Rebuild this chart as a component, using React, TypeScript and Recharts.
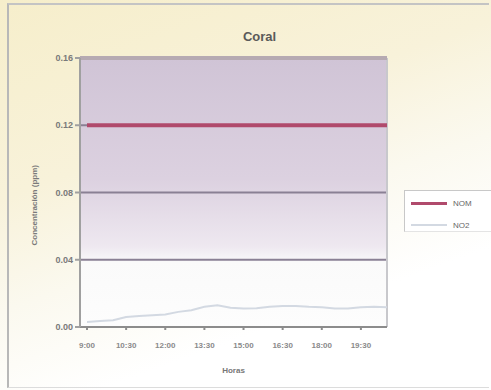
import React from "react"
import {
  LineChart,
  Line,
  XAxis,
  YAxis,
  CartesianGrid,
  ReferenceLine,
} from "recharts"

// half-hour readings, 9:00 to 20:30
const hours = [
  "9:00", "9:30", "10:00", "10:30", "11:00", "11:30", "12:00", "12:30",
  "13:00", "13:30", "14:00", "14:30", "15:00", "15:30", "16:00", "16:30",
  "17:00", "17:30", "18:00", "18:30", "19:00", "19:30", "20:00", "20:30",
]
const no2 = [
  0.003, 0.0035, 0.004, 0.006, 0.0065, 0.007, 0.0075, 0.009,
  0.01, 0.012, 0.013, 0.0115, 0.011, 0.0112, 0.012, 0.0125,
  0.0125, 0.012, 0.0117, 0.011, 0.011, 0.0118, 0.012, 0.0117,
]
const NOM_LIMIT = 0.12
const yTicks = [0, 0.04, 0.08, 0.12, 0.16]
const Y_MAX = 0.16

const data = hours.map((h, i) => ({ hora: h, NOM: NOM_LIMIT, NO2: no2[i] }))

const font = "'Liberation Sans', Arial, sans-serif"

function LegendBox() {
  return (
    <div
      style={{
        position: "absolute",
        left: 404,
        top: 190,
        width: 87,
        height: 42,
        boxSizing: "border-box",
        background: "#fff",
        borderTop: "1px solid #c8c8c8",
        borderLeft: "1px solid #c8c8c8",
        borderBottom: "1px solid #e4e4e4",
        padding: "6px 0 0 6px",
        fontSize: 8,
        color: "#666",
      }}
    >
      <div style={{ display: "flex", alignItems: "center", height: 12 }}>
        <span style={{ width: 36, height: 3, background: "#b04a6c", display: "inline-block" }} />
        <span style={{ marginLeft: 6 }}>NOM</span>
      </div>
      <div style={{ display: "flex", alignItems: "center", height: 12, marginTop: 10 }}>
        <span style={{ width: 36, height: 2, background: "#d3d9e2", display: "inline-block" }} />
        <span style={{ marginLeft: 6 }}>NO2</span>
      </div>
    </div>
  )
}

export default function App() {
  return (
    <div
      style={{
        position: "absolute",
        left: 0,
        top: 0,
        width: 491,
        height: 390,
        background: "linear-gradient(160deg, #f6eecb 0%, #f8f2da 35%, #fbf9ef 55%, #ffffff 75%)",
        fontFamily: font,
      }}
    >
      <div
        style={{
          position: "absolute",
          left: 7,
          top: 3,
          width: 480,
          height: 382,
          borderLeft: "2px solid #b8b8b8",
          borderTop: "2px solid #c4c4c4",
          borderBottom: "1px solid #dcdcdc",
        }}
      />
      <div
        style={{
          position: "absolute",
          left: 0,
          top: 29,
          width: 491,
          textAlign: "center",
          paddingLeft: 14,
          fontSize: 13,
          fontWeight: "bold",
          color: "#5a5a5a",
        }}
      >
        Coral
      </div>
      <div style={{ position: "absolute", left: 0, top: 0 }}>
        <LineChart
          width={491}
          height={390}
          data={data}
          margin={{ top: 58, right: 104, bottom: 33, left: 40 }}
        >
          <defs>
            <linearGradient id="plotBg" x1="0" y1="0" x2="0" y2="1">
              <stop offset="0%" stopColor="#d0c4d6" />
              <stop offset="45%" stopColor="#dcd1e0" />
              <stop offset="70%" stopColor="#eee8f0" />
              <stop offset="76%" stopColor="#fafafa" />
              <stop offset="100%" stopColor="#fdfdfd" />
            </linearGradient>
          </defs>
          <CartesianGrid
            vertical={false}
            fill="url(#plotBg)"
            stroke="#8a8094"
            strokeWidth={2}
          />
          <XAxis
            dataKey="hora"
            interval={2}
            padding={{ left: 7, right: 0 }}
            height={30}
            stroke="#8c8c8c"
            strokeWidth={2}
            tickSize={3}
            tickMargin={12}
            tick={{ fill: "#8a8a8a", fontSize: 8, fontWeight: "bold" }}
            label={{ value: "Horas", position: "insideBottom", offset: 0, dy: 16, fill: "#777", fontSize: 8, fontWeight: "bold" }}
          />
          <YAxis
            width={40}
            domain={[0, Y_MAX]}
            ticks={yTicks}
            tickFormatter={(v: number) => v.toFixed(2)}
            stroke="#a0a0a0"
            strokeWidth={2}
            tickSize={5}
            tick={{ fill: "#7a7a7a", fontSize: 9, fontWeight: "bold" }}
            label={{
              value: "Concentración (ppm)",
              angle: -90,
              position: "insideLeft",
              offset: -6,
              dy: 53,
              fill: "#7a7a7a",
              fontSize: 8,
              fontWeight: "bold",
            }}
          />
          <ReferenceLine x={hours[hours.length - 1]} stroke="#c8c8cc" strokeWidth={2} />
          <ReferenceLine y={Y_MAX} stroke="#b6aab2" strokeWidth={4} />
          <Line
            dataKey="NO2"
            stroke="#d3d9e2"
            strokeWidth={2}
            dot={false}
            isAnimationActive={false}
          />
          <Line
            dataKey="NOM"
            stroke="#b04a6c"
            strokeWidth={4}
            dot={false}
            isAnimationActive={false}
          />
        </LineChart>
      </div>
      <LegendBox />
    </div>
  )
}
